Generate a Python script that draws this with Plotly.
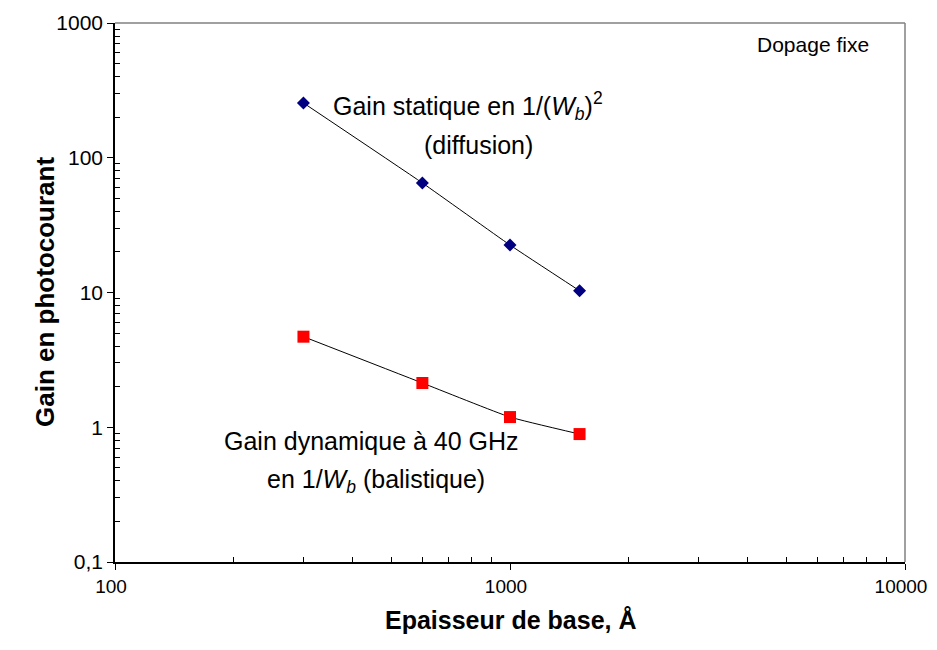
import plotly.graph_objects as go

# epaisseur de base (Angstrom)
epaisseur = [300, 600, 1000, 1500]
gain_statique = [255, 65, 22.5, 10.3]
gain_dynamique = [4.7, 2.13, 1.19, 0.89]

y_tickvals = [0.1, 1, 10, 100, 1000]
y_ticktext = ['0,1', '1', '10', '100', '1000']
x_tickvals = [100, 1000, 10000]
x_ticktext = ['100', '1000', '10000']

font = 'Liberation Sans, Arial, sans-serif'

x_minor = [m * d for d in (100, 1000) for m in range(2, 10)]
y_minor = [m * d for d in (0.1, 1, 10, 100) for m in range(2, 10)]

fig = go.Figure()
fig.add_trace(go.Scatter(x=epaisseur, y=gain_statique, mode='lines+markers',
                         line=dict(color='black', width=1, shape='spline', smoothing=0.4),
                         marker=dict(symbol='diamond', size=10, color='#000080'),
                         showlegend=False))
fig.add_trace(go.Scatter(x=epaisseur, y=gain_dynamique, mode='lines+markers',
                         line=dict(color='black', width=1, shape='spline', smoothing=0.4),
                         marker=dict(symbol='square', size=12, color='#FF0000'),
                         showlegend=False))

def px(x, y):
    # screen pixel position -> paper coords
    return (x - 115) / 790, (562 - y) / 539

def note(text, x, y, size=25):
    xp, yp = px(x, y)
    fig.add_annotation(text=text, x=xp, y=yp, xref='paper', yref='paper',
                       showarrow=False, font=dict(size=size, color='black', family=font),
                       xanchor='center', yanchor='middle')

note('Gain statique en 1/(<i>W</i><sub><i>b</i></sub>)<sup>2</sup>', 468, 106)
note('(diffusion)', 478, 145)
note('Gain dynamique à 40 GHz', 371, 441)
note('en 1/<i>W</i><sub><i>b</i></sub> (balistique)', 376, 481)
note('Dopage fixe', 813, 44, size=21)

# axis titles placed by hand
xp, yp = px(511, 636)
fig.add_annotation(text='<b>Epaisseur de base, Å</b>', x=xp, y=yp, xref='paper', yref='paper',
                   showarrow=False, font=dict(size=25, color='black', family=font))
xp, yp = px(28, 292)
fig.add_annotation(text='<b>Gain en photocourant</b>', x=xp, y=yp, xref='paper', yref='paper',
                   showarrow=False, textangle=-90, font=dict(size=26, color='black', family=font))

# gray top/right border of plot area
fig.add_shape(type='line', xref='paper', yref='paper', x0=0, x1=1, y0=1, y1=1,
              line=dict(color='#808080', width=1.5))
fig.add_shape(type='line', xref='paper', yref='paper', x0=1, x1=1, y0=0, y1=1,
              line=dict(color='#808080', width=1.5))

fig.update_xaxes(type='log', range=[2, 4], tickvals=x_tickvals, ticktext=x_ticktext,
                 showgrid=False, zeroline=False, showline=True, linecolor='black', linewidth=1.5,
                 ticks='outside', ticklen=6, tickcolor='black', automargin=False,
                 ticklabeloverflow='allow', ticklabelshift=-4,
                 minor=dict(tickvals=x_minor, ticks='inside', ticklen=5, tickcolor='black', showgrid=False),
                 tickfont=dict(size=19, color='black', family=font))
fig.update_yaxes(type='log', range=[-1, 3], tickvals=y_tickvals, ticktext=y_ticktext,
                 showgrid=False, zeroline=False, showline=True, linecolor='black', linewidth=1.5,
                 ticks='outside', ticklen=6, tickcolor='black', automargin=False,
                 minor=dict(tickvals=y_minor, ticks='inside', ticklen=5, tickcolor='black', showgrid=False),
                 tickfont=dict(size=21, color='black', family=font))

# page body has an 8px margin, so the figure is shifted by 8px
fig.update_layout(width=921, height=634, plot_bgcolor='white', paper_bgcolor='white',
                  margin=dict(l=107, r=24, t=15, b=80), font=dict(family=font))

fig.write_html('out.html')
